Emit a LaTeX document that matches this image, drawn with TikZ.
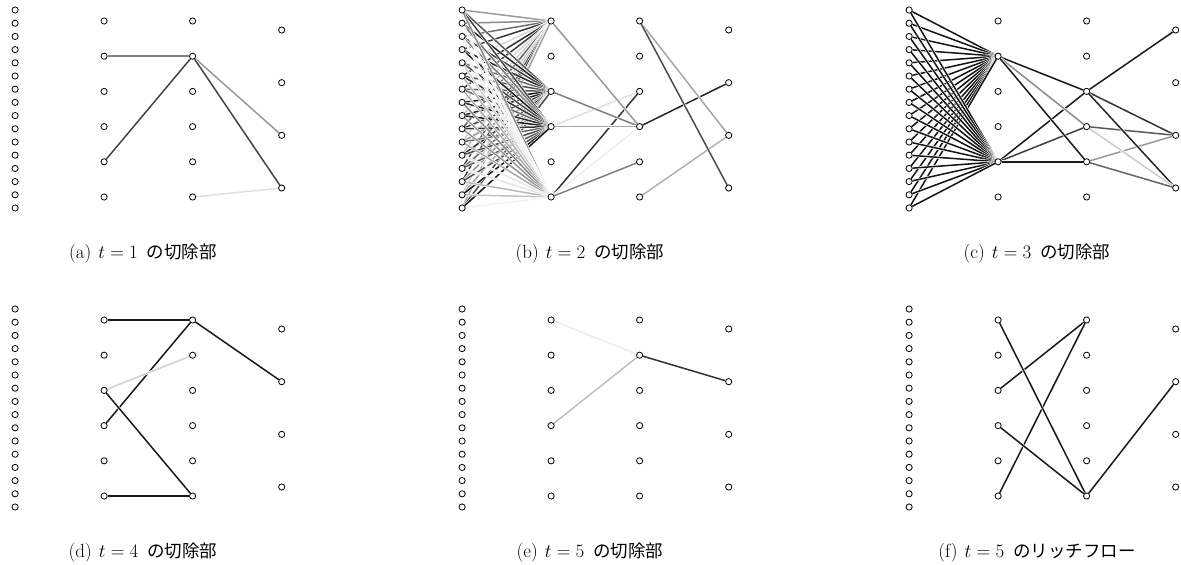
\documentclass[tikz,border=0pt]{standalone}
\usepackage{fix-cm}
\usepackage{fontspec}
\newfontfamily\jpfont[Scale=0.92]{Noto Sans CJK JP}
\usetikzlibrary{backgrounds}
\tikzset{
  nd/.style={circle, draw=black, fill=white, line width=0.8pt, inner sep=0pt, minimum size=6.2pt},
  ed/.style={line width=1.5pt, preaction={draw=white, line width=2.7pt}},
  captxt/.style={anchor=base, inner sep=0pt, font=\fontsize{19}{23}\selectfont}
}
\newcommand{\mkpanel}[3]{%
  \foreach \i in {0,...,15} \node[nd] (#1L0-\i) at ({#2+15.1},{#3+10+13.2*\i}) {};
  \foreach \i in {0,...,5} \node[nd] (#1L1-\i) at ({#2+104.1},{#3+21+35.2*\i}) {};
  \foreach \i in {0,...,5} \node[nd] (#1L2-\i) at ({#2+192.6},{#3+21+35.2*\i}) {};
  \foreach \i in {0,...,3} \node[nd] (#1L3-\i) at ({#2+281.7},{#3+30+52.67*\i}) {};
}
\newcommand{\edg}[3]{\draw[ed, draw=black!#3] (#1) -- (#2);}
\newcommand{\captext}[3]{(#1)\hspace{7pt}$t=#2$\hspace{9pt}{\jpfont #3}}
\begin{document}
\begin{tikzpicture}[x=1pt,y=-1pt]
\useasboundingbox (0,0) rectangle (1181,565);
\mkpanel{a}{0}{0}
\mkpanel{b}{447}{0}
\mkpanel{c}{894}{0}
\mkpanel{d}{0}{299}
\mkpanel{e}{447}{299}
\mkpanel{f}{894}{299}
\begin{scope}[on background layer]
% (a)
\edg{aL1-1}{aL2-1}{50}
\edg{aL1-4}{aL2-1}{73}
\edg{aL2-1}{aL3-2}{40}
\edg{aL2-1}{aL3-3}{73}
\edg{aL2-5}{aL3-3}{12}
% (b)
\pgfmathsetseed{12}
\foreach \j/\lo/\rg in {0/15/70, 2/35/60, 3/35/60, 5/5/45} {
  \foreach \i in {0,...,15} {
    \pgfmathsetmacro{\g}{int(\lo+\rg*rnd)}
    \draw[ed, draw=black!\g] (bL0-\i) -- (bL1-\j);
  }
}
\edg{bL1-3}{bL2-2}{12}
\edg{bL1-5}{bL2-2}{80}
\edg{bL1-0}{bL2-3}{40}
\edg{bL1-2}{bL2-3}{50}
\edg{bL1-3}{bL2-3}{35}
\edg{bL1-5}{bL2-3}{7}
\edg{bL1-5}{bL2-4}{50}
\edg{bL2-3}{bL3-1}{85}
\edg{bL2-0}{bL3-2}{35}
\edg{bL2-5}{bL3-2}{30}
\edg{bL2-0}{bL3-3}{70}
% (c)
\foreach \j in {1,4} {
  \foreach \i in {0,...,15} {
    \draw[ed, draw=black!92] (cL0-\i) -- (cL1-\j);
  }
}
\edg{cL1-1}{cL2-2}{90}
\edg{cL1-4}{cL2-2}{90}
\edg{cL1-1}{cL2-3}{45}
\edg{cL1-4}{cL2-3}{75}
\edg{cL1-1}{cL2-4}{90}
\edg{cL1-4}{cL2-4}{90}
\edg{cL2-2}{cL3-0}{90}
\edg{cL2-2}{cL3-2}{80}
\edg{cL2-3}{cL3-2}{65}
\edg{cL2-4}{cL3-2}{40}
\edg{cL2-2}{cL3-3}{85}
\edg{cL2-3}{cL3-3}{20}
\edg{cL2-4}{cL3-3}{60}
% (d)
\edg{dL1-0}{dL2-0}{90}
\edg{dL1-3}{dL2-0}{90}
\edg{dL1-2}{dL2-1}{18}
\edg{dL1-2}{dL2-5}{90}
\edg{dL1-5}{dL2-5}{90}
\edg{dL2-0}{dL3-1}{90}
% (e)
\edg{eL1-0}{eL2-1}{8}
\edg{eL1-3}{eL2-1}{25}
\edg{eL2-1}{eL3-1}{80}
% (f)
\edg{fL1-2}{fL2-0}{90}
\edg{fL1-5}{fL2-0}{90}
\edg{fL1-0}{fL2-5}{90}
\edg{fL1-3}{fL2-5}{90}
\edg{fL2-5}{fL3-1}{90}
\end{scope}
% captions
\node[captxt] (capa) at (143,258) {\captext{a}{1}{の切除部}};
\node[captxt] (capb) at (590,258) {\captext{b}{2}{の切除部}};
\node[captxt] (capc) at (1037,258) {\captext{c}{3}{の切除部}};
\node[captxt] (capd) at (143,557) {\captext{d}{4}{の切除部}};
\node[captxt] (cape) at (590,557) {\captext{e}{5}{の切除部}};
\node[captxt] (capf) at (1037,557) {\captext{f}{5}{のリッチフロー}};
\end{tikzpicture}
\end{document}
